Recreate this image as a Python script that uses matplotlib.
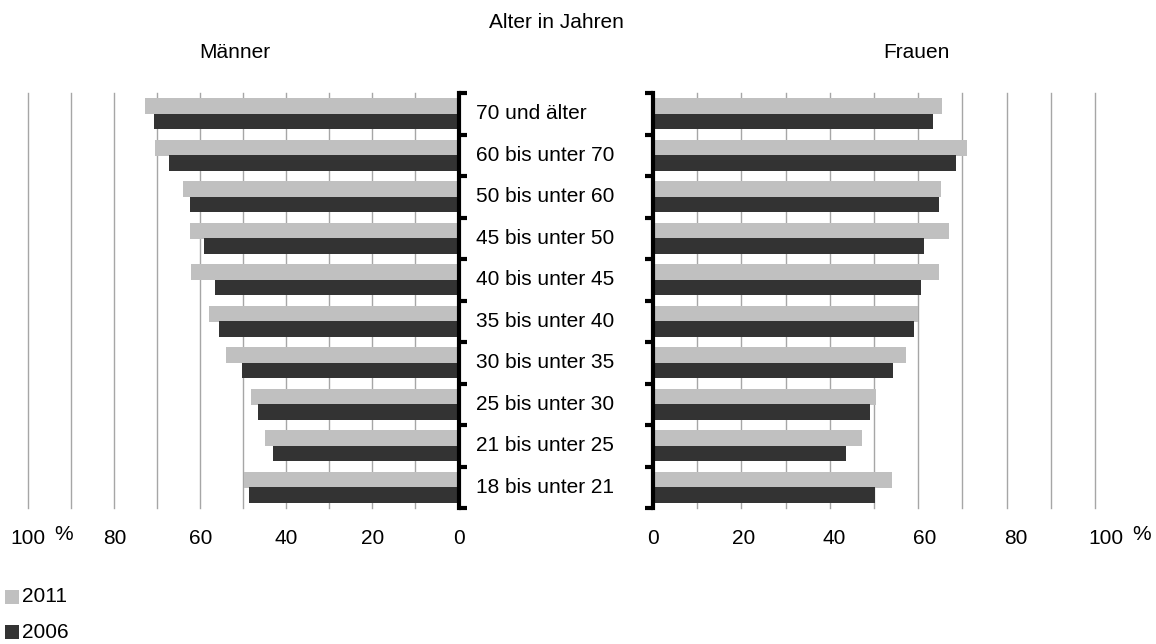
import matplotlib
matplotlib.use("Agg")
import matplotlib.pyplot as plt
from matplotlib.patches import Rectangle
from matplotlib.transforms import blended_transform_factory, ScaledTranslation
import numpy as np

plt.rcParams['font.family'] = ['Liberation Sans', 'DejaVu Sans']

categories = ["70 und älter", "60 bis unter 70", "50 bis unter 60", "45 bis unter 50",
              "40 bis unter 45", "35 bis unter 40", "30 bis unter 35", "25 bis unter 30",
              "21 bis unter 25", "18 bis unter 21"]
maenner_2011 = [72.9, 70.5, 64.0, 62.4, 62.2, 58.0, 54.0, 48.3, 45.0, 49.8]
maenner_2006 = [70.8, 67.3, 62.4, 59.1, 56.6, 55.7, 50.3, 46.6, 43.1, 48.7]
frauen_2011 = [65.3, 71.0, 65.1, 66.9, 64.7, 59.9, 57.2, 50.5, 47.2, 54.1]
frauen_2006 = [63.3, 68.6, 64.7, 61.4, 60.7, 59.1, 54.3, 49.0, 43.7, 50.2]
series_labels = ["2011", "2006"]
x_ticks = [0, 20, 40, 60, 80, 100]
x_ticklabels = ["0", "20", "40", "60", "80", "100"]

c2011 = "#c0c0c0"
c2006 = "#333333"
grid_c = "#a6a6a6"
FS = 15

W, H = 1156, 644
fig = plt.figure(figsize=(W / 100, H / 100), dpi=100)

def fx(px):
    return px / W

def fy(py):
    return 1 - py / H

top, bot = 93, 508
axL = fig.add_axes([fx(28.3), fy(bot), fx(458.5 - 28.3), (bot - top) / H])
axR = fig.add_axes([fx(653), fy(bot), fx(1095 - 653), (bot - top) / H])

y = np.arange(len(categories))
h = 0.375
off1, off2 = -0.18, 0.19

for ax, v11, v06 in [(axL, maenner_2011, maenner_2006), (axR, frauen_2011, frauen_2006)]:
    ax.set_axisbelow(True)
    ax.barh(y + off1, v11, height=h, color=c2011, zorder=2)
    ax.barh(y + off2, v06, height=h, color=c2006, zorder=2)
    ax.set_ylim(len(categories) - 0.5, -0.5)
    ax.set_xticks(x_ticks)
    ax.set_xticks(np.arange(10, 101, 10), minor=True)
    ax.grid(True, axis='x', which='both', color=grid_c, linewidth=1.0, zorder=0)
    ax.tick_params(axis='x', which='both', length=0, pad=15)
    ax.set_xticklabels(x_ticklabels, fontsize=FS)
    for s in ax.spines.values():
        s.set_visible(False)
    ax.set_yticks(np.arange(-0.5, len(categories), 1.0))
    ax.set_yticklabels([])

axL.set_xlim(100, 0)
axR.set_xlim(0, 100)

for ax in (axL, axR):
    for gl in ax.get_xgridlines() + ax.xaxis.get_minorticklines():
        gl.set_clip_on(False)
    for tick in ax.xaxis.get_major_ticks() + ax.xaxis.get_minor_ticks():
        tick.gridline.set_clip_on(False)

axL.spines['right'].set_visible(True)
axL.spines['right'].set_linewidth(3)
axL.spines['right'].set_color('black')
axL.yaxis.tick_right()
axL.tick_params(axis='y', direction='out', length=6, width=3, color='black')

axR.spines['left'].set_visible(True)
axR.spines['left'].set_linewidth(3)
axR.spines['left'].set_color('black')
axR.tick_params(axis='y', direction='out', length=6, width=3, color='black')

for ax in (axL, axR):
    for t in ax.yaxis.get_ticklines():
        t.set_solid_capstyle('round')

# right-panel labels sit on a slightly wider scale in the reference
for val, lab in zip(x_ticks, axR.get_xticklabels()):
    lab.set_transform(lab.get_transform() + ScaledTranslation(val * 0.11 / 100, 0, fig.dpi_scale_trans))

# category labels
trans = blended_transform_factory(fig.transFigure, axL.transData)
for i, c in enumerate(categories):
    axL.text(fx(476), i, c, transform=trans, fontsize=FS, ha='left', va='center', clip_on=False)

# % signs
fig.text(fx(63.5), fy(534), "%", fontsize=FS, ha='center', va='center')
fig.text(fx(1142), fy(534), "%", fontsize=FS, ha='center', va='center')

# titles
fig.text(fx(556), fy(23), "Alter in Jahren", fontsize=FS, ha='center', va='center')
fig.text(fx(235), fy(52), "Männer", fontsize=FS, ha='center', va='center')
fig.text(fx(916), fy(52), "Frauen", fontsize=FS, ha='center', va='center')

# legend
for (lab, col, yc) in [(series_labels[0], c2011, 597), (series_labels[1], c2006, 632)]:
    fig.patches.append(Rectangle((fx(5), fy(yc + 7)), fx(14), 14 / H, transform=fig.transFigure,
                                 facecolor=col, edgecolor='none'))
    fig.text(fx(22), fy(yc), lab, fontsize=FS, ha='left', va='center')

fig.savefig("out.png", dpi=100)
